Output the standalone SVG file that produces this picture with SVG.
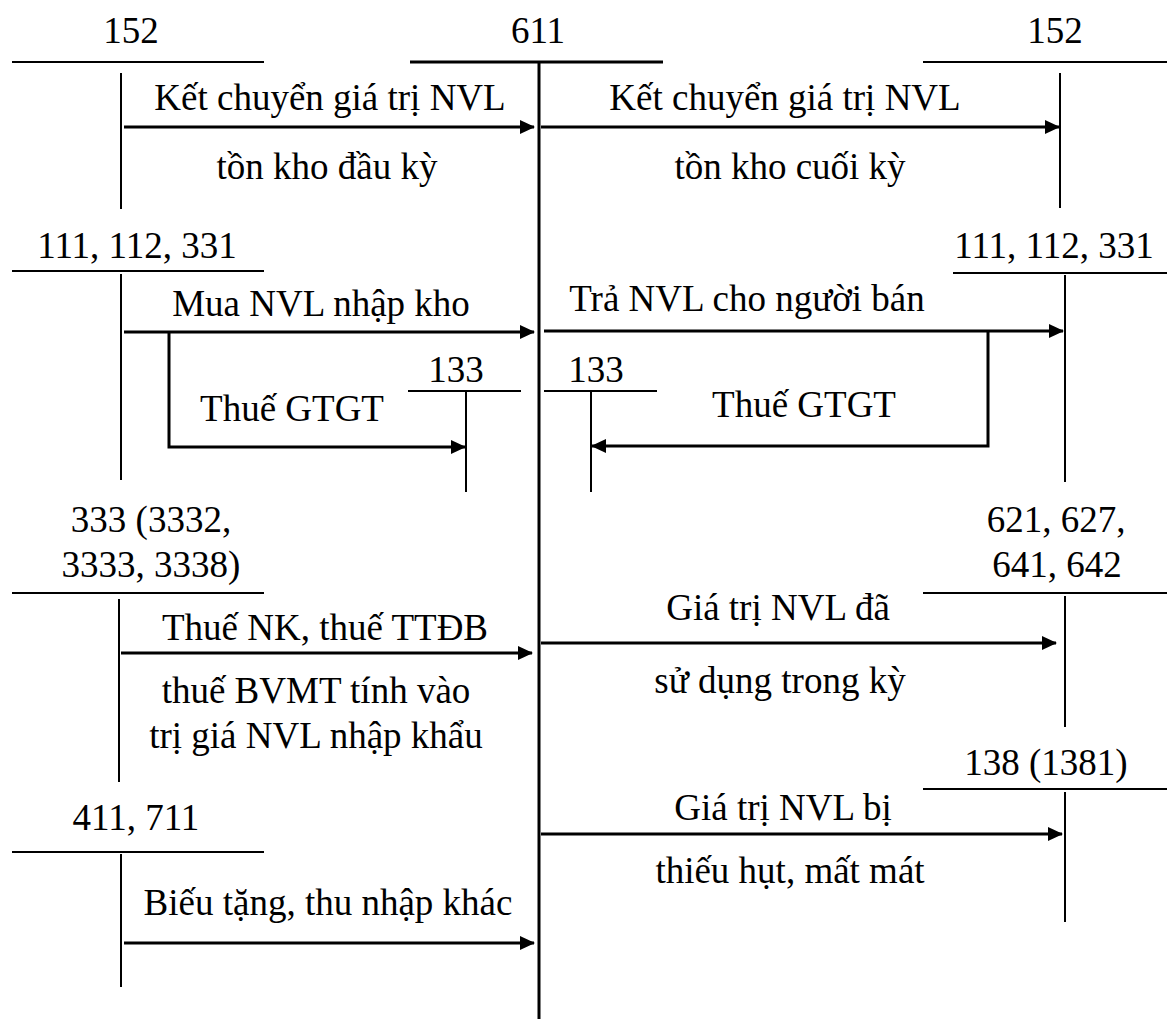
<svg xmlns="http://www.w3.org/2000/svg" width="1167" height="1021" viewBox="0 0 1167 1021">
<style>
text{font-family:"Liberation Serif","Times New Roman",serif;font-size:37px;fill:#000;text-anchor:middle}
.t{stroke:#000;stroke-width:2;fill:none}
.m{stroke:#000;stroke-width:3;fill:none}
.a{stroke:#000;stroke-width:3;fill:none;marker-end:url(#ah)}
</style>
<defs>
<marker id="ah" markerUnits="userSpaceOnUse" viewBox="0 0 15 14" markerWidth="15" markerHeight="14" refX="14" refY="7" orient="auto">
<path d="M0,0 L15,7 L0,14 z" fill="#000"/>
</marker>
</defs>
<rect width="1167" height="1021" fill="#fff"/>

<g id="acc-611">
<text x="538" y="43">611</text>
<line class="m" x1="410" y1="62" x2="663" y2="62"/>
<line class="m" x1="539" y1="62" x2="539" y2="1019"/>
</g>
<g id="acc-152-left">
<text x="131" y="43">152</text>
<line class="t" x1="12" y1="62" x2="264" y2="62"/>
<line class="t" x1="121" y1="73" x2="121" y2="209"/>
</g>
<g id="acc-152-right">
<text x="1055" y="43">152</text>
<line class="t" x1="923" y1="62" x2="1167" y2="62"/>
<line class="t" x1="1060" y1="73" x2="1060" y2="208"/>
</g>
<g id="acc-111-left">
<text x="137" y="258">111, 112, 331</text>
<line class="t" x1="12" y1="271" x2="264" y2="271"/>
<line class="t" x1="121" y1="274" x2="121" y2="480"/>
</g>
<g id="acc-133-left">
<text x="456" y="382">133</text>
<line class="t" x1="408" y1="391" x2="521" y2="391"/>
<line class="t" x1="466" y1="391" x2="466" y2="492"/>
</g>
<g id="acc-111-right">
<text x="1054" y="258">111, 112, 331</text>
<line class="t" x1="953" y1="273" x2="1167" y2="273"/>
<line class="t" x1="1065" y1="275" x2="1065" y2="482"/>
</g>
<g id="acc-133-right">
<text x="596" y="382">133</text>
<line class="t" x1="544" y1="391" x2="657" y2="391"/>
<line class="t" x1="591" y1="391" x2="591" y2="492"/>
</g>
<g id="acc-333">
<text x="151" y="532">333 (3332,</text>
<text x="151" y="577">3333, 3338)</text>
<line class="t" x1="12" y1="593" x2="264" y2="593"/>
<line class="t" x1="119" y1="599" x2="119" y2="782"/>
</g>
<g id="acc-621">
<text x="1056" y="532">621, 627,</text>
<text x="1057" y="577">641, 642</text>
<line class="t" x1="923" y1="593" x2="1167" y2="593"/>
<line class="t" x1="1065" y1="596" x2="1065" y2="727"/>
</g>
<g id="acc-411">
<text x="136" y="830">411, 711</text>
<line class="t" x1="12" y1="852" x2="264" y2="852"/>
<line class="t" x1="121" y1="854" x2="121" y2="987"/>
</g>
<g id="acc-138">
<text x="1046" y="775">138 (1381)</text>
<line class="t" x1="923" y1="789" x2="1167" y2="789"/>
<line class="t" x1="1065" y1="792" x2="1065" y2="922"/>
</g>

<g id="connectors">
<line class="a" x1="124" y1="127" x2="534" y2="127"/>
<line class="a" x1="541" y1="127" x2="1059" y2="127"/>
<line class="a" x1="124" y1="332" x2="534" y2="332"/>
<path class="a" d="M169,332 V447 H465"/>
<line class="a" x1="544" y1="331" x2="1063" y2="331"/>
<path class="a" d="M988,331 V446 H592"/>
<line class="a" x1="121" y1="653" x2="532" y2="653"/>
<line class="a" x1="541" y1="643" x2="1056" y2="643"/>
<line class="a" x1="124" y1="943" x2="534" y2="943"/>
<line class="a" x1="541" y1="834" x2="1062" y2="834"/>
</g>

<g id="connector-labels">
<text x="330" y="110">Kết chuyển giá trị NVL</text>
<text x="327" y="179">tồn kho đầu kỳ</text>
<text x="785" y="110">Kết chuyển giá trị NVL</text>
<text x="790" y="179">tồn kho cuối kỳ</text>
<text x="321" y="316">Mua NVL nhập kho</text>
<text x="292" y="421">Thuế GTGT</text>
<text x="747" y="311">Trả NVL cho người bán</text>
<text x="804" y="417">Thuế GTGT</text>
<text x="325" y="640">Thuế NK, thuế TTĐB</text>
<text x="316" y="703">thuế BVMT tính vào</text>
<text x="316" y="748">trị giá NVL nhập khẩu</text>
<text x="778" y="620">Giá trị NVL đã</text>
<text x="780" y="693">sử dụng trong kỳ</text>
<text x="328" y="915">Biếu tặng, thu nhập khác</text>
<text x="783" y="820">Giá trị NVL bị</text>
<text x="790" y="883">thiếu hụt, mất mát</text>
</g>
</svg>
